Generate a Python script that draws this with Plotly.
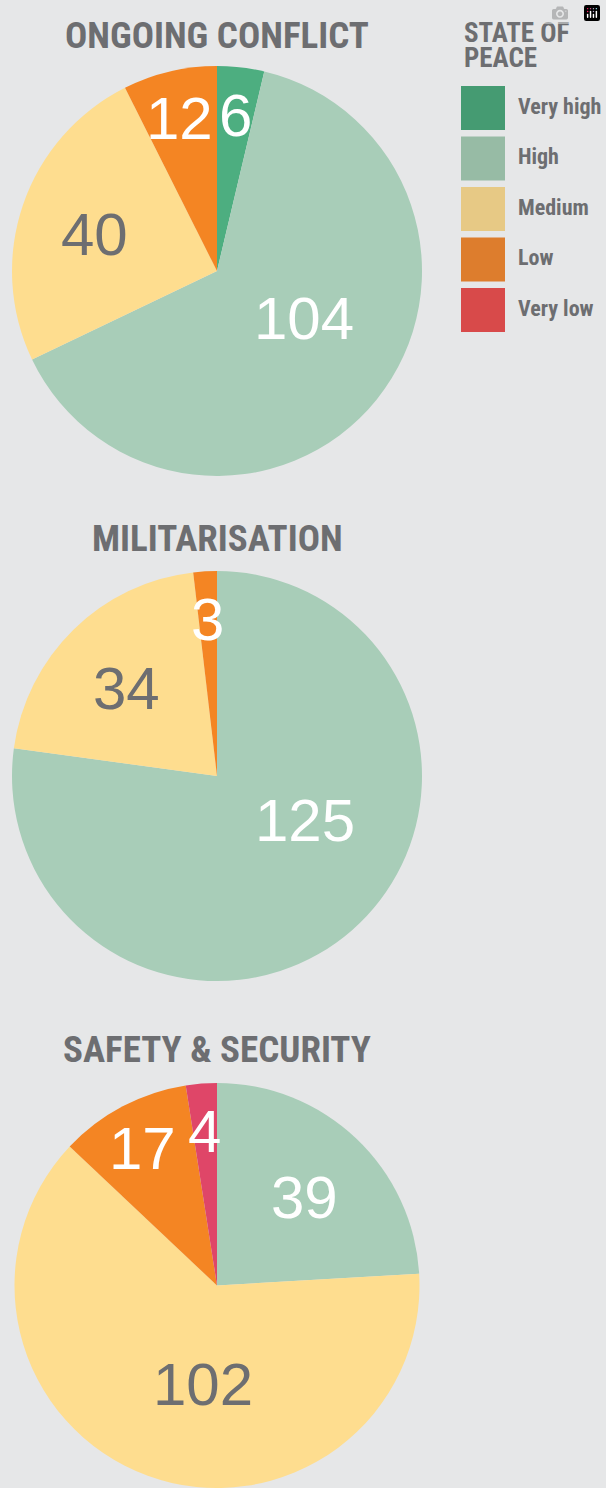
import math
import plotly.graph_objects as go

W, H = 606, 1488

# ---------------- data ----------------
categories = ["Very high", "High", "Medium", "Low", "Very low"]
ongoing_conflict = [6, 104, 40, 12, 0]
militarisation = [0, 125, 34, 3, 0]
safety_security = [0, 39, 102, 17, 4]
titles = ["ONGOING CONFLICT", "MILITARISATION", "SAFETY & SECURITY"]
legend_title = ["STATE OF", "PEACE"]

# ---------------- style ----------------
slice_colors = ["#4DAE80", "#A8CDB8", "#FEDD8F", "#F48523", "#DF4668"]
legend_colors = ["#459B72", "#97BBA5", "#E7C985", "#DD7D2D", "#D84A4A"]
label_colors = ["white", "white", "#6D6E71", "white", "white"]
BG = "#E6E7E8"
GREY = "#6D6E71"
TITLE_FONT = "Roboto Condensed, Liberation Sans Narrow, sans-serif"
NUM_FONT = "Liberation Sans, Arial, sans-serif"

# pie boxes in pixels: (left, right, top, bottom)
boxes = [(12, 422, 66, 476), (12, 422, 571, 981), (12, 422, 1083, 1488)]
title_y = [35, 538, 1049]
LABEL_DY = 5  # optical vertical centering of digits


def px(x):
    return x / W


def py(y):
    return 1 - y / H


fig = go.Figure()
annotations = []
shapes = []

series = [ongoing_conflict, militarisation, safety_security]
for s, vals in enumerate(series):
    l, r, t, b = boxes[s]
    fig.add_trace(go.Pie(
        labels=categories,
        values=vals,
        sort=False,
        direction="clockwise",
        rotation=0,
        textinfo="none",
        hoverinfo="label+value",
        marker=dict(colors=slice_colors, line=dict(width=0)),
        domain=dict(x=[px(l), px(r)], y=[py(b), py(t)]),
        showlegend=False,
    ))
    # geometry of the drawn pie
    cx = (l + r) / 2
    cy = (t + b) / 2
    rad = min(r - l, b - t) / 2
    total = sum(vals)
    cum = 0
    for i, v in enumerate(vals):
        if v == 0:
            continue
        frac = v / total
        mid = (cum + v / 2) / total * 360
        cum += v
        theta = frac * 360
        if frac < 0.12:
            rf = 0.79
        elif frac < 0.35:
            rf = 0.63
        else:
            rf = 0.47
            mid = mid - 0.25 * (theta - 180)
        a = math.radians(mid)
        x = cx + rf * rad * math.sin(a)
        y = cy - rf * rad * math.cos(a) + LABEL_DY
        annotations.append(dict(
            x=px(x), y=py(y), xref="paper", yref="paper",
            text=str(v), showarrow=False, xanchor="center", yanchor="middle",
            font=dict(family=NUM_FONT, size=60, color=label_colors[i]),
        ))
    annotations.append(dict(
        x=px(cx), y=py(title_y[s]), xref="paper", yref="paper",
        text=titles[s], showarrow=False, xanchor="center", yanchor="middle",
        font=dict(family=TITLE_FONT, size=37, color=GREY, weight="bold"),
    ))

# legend (drawn manually)
for j, line in enumerate(legend_title):
    annotations.append(dict(
        x=px(462), y=py(33 + j * 25), xref="paper", yref="paper",
        text=line, showarrow=False, xanchor="left", yanchor="middle",
        font=dict(family=TITLE_FONT, size=27, color=GREY, weight="bold"),
    ))
for k, cat in enumerate(categories):
    top = 86 + k * 50.5
    shapes.append(dict(
        type="rect", xref="paper", yref="paper",
        x0=px(461), x1=px(505), y0=py(top + 44), y1=py(top),
        fillcolor=legend_colors[k], line=dict(width=0),
    ))
    annotations.append(dict(
        x=px(516), y=py(top + 20), xref="paper", yref="paper",
        text=cat, showarrow=False, xanchor="left", yanchor="middle",
        font=dict(family=TITLE_FONT, size=22, color=GREY, weight="bold"),
    ))

fig.update_layout(
    width=W, height=H,
    margin=dict(l=0, r=0, t=0, b=0),
    paper_bgcolor=BG, plot_bgcolor=BG,
    annotations=annotations, shapes=shapes,
)

fig.write_html("out.html", post_script="document.body.style.margin='0';")
